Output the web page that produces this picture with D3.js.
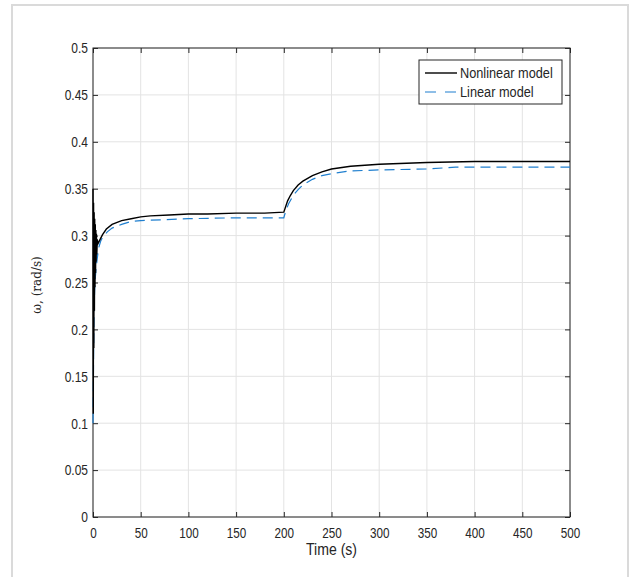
<!DOCTYPE html>
<html>
<head>
<meta charset="utf-8">
<script src="https://cdn.jsdelivr.net/npm/d3@7"></script>
<style>
  body { margin: 0; background: #fff; }
  text { font-family: 'Liberation Sans Narrow', 'Arial Narrow', 'Liberation Sans', sans-serif; fill: #262626; }
</style>
</head>
<body>
<script>
// time stamps and values
var nlTime = [0, 0.3, 0.6, 0.9, 1.2, 1.5, 1.8, 2.1, 2.4, 2.7, 3.0, 3.3, 3.6, 4, 4.5, 5, 6, 8, 10, 14, 20, 30, 40, 50, 60, 80, 100, 120, 150, 180, 200,
              202, 204, 207, 210, 215, 220, 230, 240, 250, 270, 300, 350, 400, 450, 500];
var nlValue = [0.35, 0.11, 0.335, 0.18, 0.325, 0.22, 0.318, 0.245, 0.312, 0.26, 0.306, 0.272, 0.302, 0.28, 0.296, 0.291, 0.293, 0.297, 0.301, 0.307, 0.312, 0.316, 0.318, 0.320, 0.321, 0.322, 0.323, 0.323, 0.324, 0.324, 0.325,
               0.331, 0.337, 0.343, 0.348, 0.354, 0.358, 0.364, 0.368, 0.371, 0.374, 0.376, 0.378, 0.379, 0.379, 0.379];

var linTime = [0, 0.5, 1, 1.5, 2, 3, 4, 5, 6, 8, 10, 15, 20, 30, 40, 50, 75, 100, 150, 200,
               202, 205, 210, 215, 220, 230, 240, 250, 270, 300, 350, 380, 450, 500];
var linValue = [0.1, 0.16, 0.21, 0.235, 0.25, 0.262, 0.272, 0.28, 0.287, 0.294, 0.298, 0.304, 0.308, 0.312, 0.315, 0.316, 0.317, 0.318, 0.319, 0.319,
                0.326, 0.334, 0.343, 0.349, 0.354, 0.360, 0.364, 0.366, 0.369, 0.370, 0.371, 0.373, 0.373, 0.373];

var xTicks = [0, 50, 100, 150, 200, 250, 300, 350, 400, 450, 500];
var yTicks = [0, 0.05, 0.1, 0.15, 0.2, 0.25, 0.3, 0.35, 0.4, 0.45, 0.5];
var seriesNames = ['Nonlinear model', 'Linear model'];

var width = 630, height = 577;
var plotLeft = 93, plotRight = 570, plotTop = 48, plotBottom = 517;

var svg = d3.select('body').append('svg')
  .attr('width', width)
  .attr('height', height);

// outer frame
svg.append('rect')
  .attr('x', 12).attr('y', 5)
  .attr('width', 616).attr('height', 580)
  .attr('fill', 'none')
  .attr('stroke', '#dadada')
  .attr('stroke-width', 2);

var x = d3.scaleLinear().domain([0, 500]).range([plotLeft, plotRight]);
var y = d3.scaleLinear().domain([0, 0.5]).range([plotBottom, plotTop]);

// grid
svg.append('g').selectAll('line').data(xTicks).enter().append('line')
  .attr('x1', function(d) { return x(d); }).attr('x2', function(d) { return x(d); })
  .attr('y1', plotTop).attr('y2', plotBottom)
  .attr('stroke', '#e3e3e3').attr('stroke-width', 1);
svg.append('g').selectAll('line').data(yTicks).enter().append('line')
  .attr('y1', function(d) { return y(d); }).attr('y2', function(d) { return y(d); })
  .attr('x1', plotLeft).attr('x2', plotRight)
  .attr('stroke', '#e3e3e3').attr('stroke-width', 1);

// axes with inward ticks on all four sides
function styleAxis(g) {
  g.select('.domain').remove();
  g.selectAll('.tick line').attr('stroke', '#262626');
  g.selectAll('.tick text')
    .style('font-family', "'Liberation Sans Narrow', 'Arial Narrow', 'Liberation Sans', sans-serif")
    .style('font-size', '15px')
    .attr('fill', '#262626');
}
var xAxisG = svg.append('g').attr('transform', 'translate(0,' + plotBottom + ')')
  .call(d3.axisBottom(x).tickValues(xTicks).tickFormat(d3.format('d')).tickSizeInner(-5).tickPadding(10))
  .call(styleAxis);
xAxisG.selectAll('.tick text').attr('transform', 'scale(0.78,1)');

svg.append('g').attr('transform', 'translate(0,' + plotTop + ')')
  .call(d3.axisTop(x).tickValues(xTicks).tickFormat('').tickSizeInner(-5))
  .call(styleAxis);

var yAxisG = svg.append('g').attr('transform', 'translate(' + plotLeft + ',0)')
  .call(d3.axisLeft(y).tickValues(yTicks).tickFormat(d3.format('')).tickSizeInner(-5))
  .call(styleAxis);
yAxisG.selectAll('.tick text').attr('x', 0).attr('transform', 'translate(-5,0) scale(0.8,1)');

svg.append('g').attr('transform', 'translate(' + plotRight + ',0)')
  .call(d3.axisRight(y).tickValues(yTicks).tickFormat('').tickSizeInner(-5))
  .call(styleAxis);

svg.append('rect')
  .attr('x', plotLeft).attr('y', plotTop)
  .attr('width', plotRight - plotLeft).attr('height', plotBottom - plotTop)
  .attr('fill', 'none').attr('stroke', '#262626').attr('stroke-width', 1);

// curves
var nlData = nlTime.map(function(t, i) { return [t, nlValue[i]]; });
var linData = linTime.map(function(t, i) { return [t, linValue[i]]; });
var line = d3.line()
  .x(function(d) { return x(d[0]); })
  .y(function(d) { return y(d[1]); });

svg.append('path').datum(linData)
  .attr('d', line)
  .attr('fill', 'none')
  .attr('stroke', '#1f7fcf')
  .attr('stroke-width', 1.2)
  .attr('stroke-dasharray', '10,6');

svg.append('path').datum(nlData)
  .attr('d', line)
  .attr('fill', 'none')
  .attr('stroke', '#000')
  .attr('stroke-width', 1.4);

// legend
var lg = svg.append('g');
lg.append('rect')
  .attr('x', 419).attr('y', 60).attr('width', 143).attr('height', 44)
  .attr('fill', '#fff').attr('stroke', '#262626').attr('stroke-width', 1);
var rows = lg.selectAll('g.row').data(seriesNames).enter().append('g')
  .attr('class', 'row')
  .attr('transform', function(d, i) { return 'translate(0,' + (73 + i * 19) + ')'; });
rows.append('line')
  .attr('x1', 425).attr('x2', 457).attr('y1', 0).attr('y2', 0)
  .attr('stroke', function(d, i) { return i === 0 ? '#000' : '#1f7fcf'; })
  .attr('stroke-width', function(d, i) { return i === 0 ? 1.4 : 1.2; })
  .attr('stroke-dasharray', function(d, i) { return i === 0 ? null : '11,9'; });
rows.append('text')
  .attr('transform', 'translate(460,0) scale(0.85,1)')
  .attr('dy', '0.35em')
  .style('font-size', '15px')
  .text(function(d) { return d; });

// axis titles
svg.append('text')
  .attr('transform', 'translate(' + ((plotLeft + plotRight) / 2) + ',549) scale(0.88,1)')
  .attr('dy', '0.35em')
  .attr('text-anchor', 'middle')
  .style('font-size', '16px')
  .text('Time (s)');

svg.append('text')
  .attr('transform', 'translate(37,285) rotate(-90)')
  .attr('text-anchor', 'middle')
  .attr('dy', '0.35em')
  .style('font-family', "'DejaVu Serif', serif")
  .style('font-size', '12px')
  .attr('fill', '#555')
  .text('ω, (rad/s)');
</script>
</body>
</html>
